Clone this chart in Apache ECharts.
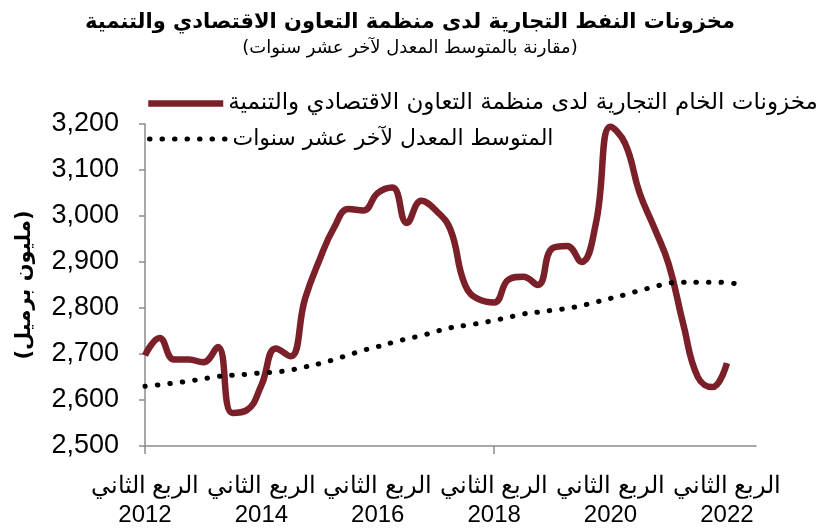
<!DOCTYPE html>
<html>
<head>
<meta charset="utf-8">
<script src="https://cdn.jsdelivr.net/npm/echarts@6/dist/echarts.min.js"></script>
<style>
  html, body { margin: 0; padding: 0; background: #fff; }
  #chart { width: 820px; height: 530px; }
</style>
</head>
<body>
<div id="chart" dir="rtl"></div>
<script>
// quarterly points, 2012 Q2 .. 2022 Q4
const quarterNames = ['الربع الأول', 'الربع الثاني', 'الربع الثالث', 'الربع الرابع'];
const years = [2012, 2013, 2014, 2015, 2016, 2017, 2018, 2019, 2020, 2021, 2022];
const categories = [];
years.forEach(function (y, yi) {
  quarterNames.forEach(function (q, qi) {
    if (yi === 0 && qi === 0) return;
    categories.push(q + '\n' + y);
  });
});

// commercial crude stocks (million barrels)
const stocks = [
  2697, 2735, 2688, 2688, 2682, 2715, 2572, 2578, 2632, 2712,
  2695, 2820, 2905, 2975, 3015, 3012, 3050, 3062, 2985, 3033,
  3012, 2970, 2850, 2818, 2812, 2862, 2868, 2850, 2930, 2935,
  2900, 2985, 3194, 3158, 3050, 2975, 2895, 2765, 2650, 2628,
  2680
];

// ten-year adjusted average
const avg10y = [
  2630, 2633, 2637, 2641, 2646, 2651, 2654, 2656, 2659, 2661,
  2665, 2672, 2679, 2688, 2698, 2708, 2716, 2725, 2733, 2740,
  2749, 2757, 2762, 2767, 2773, 2780, 2787, 2791, 2795, 2799,
  2805, 2813, 2821, 2829, 2838, 2846, 2854, 2856, 2856, 2856,
  2855, 2851
];

const stocksName = 'مخزونات الخام التجارية لدى منظمة التعاون الاقتصادي والتنمية';
const avgName = 'المتوسط المعدل لآخر عشر سنوات';

const arabicFont = '"DejaVu Sans", "Noto Sans", sans-serif';
const numFont = '"Liberation Sans", Arial, sans-serif';
const axisGray = '#8c8c8c';
const red = '#7b1f28';

const chart = echarts.init(document.getElementById('chart'));
chart.setOption({
  animation: false,
  backgroundColor: '#fff',
  title: {
    text: 'مخزونات النفط التجارية لدى منظمة التعاون الاقتصادي والتنمية',
    subtext: '(مقارنة بالمتوسط المعدل لآخر عشر سنوات)',
    left: 'center',
    top: 7,
    itemGap: 6,
    textStyle: { fontFamily: arabicFont, fontSize: 21, fontWeight: 'bold', color: '#000' },
    subtextStyle: { fontFamily: arabicFont, fontSize: 18, color: '#000' }
  },
  legend: [
    {
      data: [stocksName],
      left: 145,
      top: 92,
      padding: 0,
      itemWidth: 75,
      itemHeight: 14,
      itemStyle: { opacity: 0 },
      lineStyle: { color: red, width: 6.5 },
      textStyle: { fontFamily: arabicFont, fontSize: 23, color: '#000' }
    },
    {
      data: [avgName],
      left: 147,
      top: 128,
      padding: 0,
      itemWidth: 78,
      itemHeight: 14,
      itemStyle: { opacity: 0 },
      lineStyle: { color: '#000', width: 5, type: [0.5, 12], cap: 'round' },
      textStyle: { fontFamily: arabicFont, fontSize: 22, color: '#000' }
    }
  ],
  grid: { left: 145, right: 64, top: 124, bottom: 83 },
  xAxis: {
    type: 'category',
    data: categories,
    boundaryGap: false,
    axisLine: { lineStyle: { color: axisGray, width: 1.5 } },
    axisTick: {
      length: 8,
      interval: function (idx) { return idx % 24 === 0; },
      lineStyle: { color: axisGray, width: 1.5 }
    },
    axisLabel: {
      interval: 7,
      margin: 26,
      color: '#000',
      fontFamily: numFont,
      fontSize: 24,
      lineHeight: 29
    }
  },
  yAxis: {
    type: 'value',
    min: 2500,
    max: 3200,
    interval: 100,
    name: '(مليون برميل)',
    nameLocation: 'middle',
    nameRotate: 90,
    nameGap: 110,
    nameTextStyle: { fontFamily: arabicFont, fontSize: 21, fontWeight: 'bold', color: '#000' },
    splitLine: { show: false },
    axisLine: { show: true, lineStyle: { color: axisGray, width: 1.5 } },
    axisTick: { show: true, length: 6, lineStyle: { color: axisGray, width: 1.5 } },
    axisLabel: {
      margin: 26,
      color: '#000',
      fontFamily: numFont,
      fontSize: 27,
      formatter: function (v) { return v.toLocaleString('en-US'); }
    }
  },
  series: [
    {
      name: stocksName,
      type: 'line',
      data: stocks,
      smooth: 0.45,
      showSymbol: false,
      symbol: 'none',
      color: red,
      lineStyle: { color: red, width: 6.5 }
    },
    {
      name: avgName,
      type: 'line',
      data: avg10y,
      smooth: 0.45,
      showSymbol: false,
      symbol: 'none',
      color: '#000',
      lineStyle: { color: '#000', width: 5, type: [0.5, 12], cap: 'round' }
    }
  ]
});
</script>
</body>
</html>
